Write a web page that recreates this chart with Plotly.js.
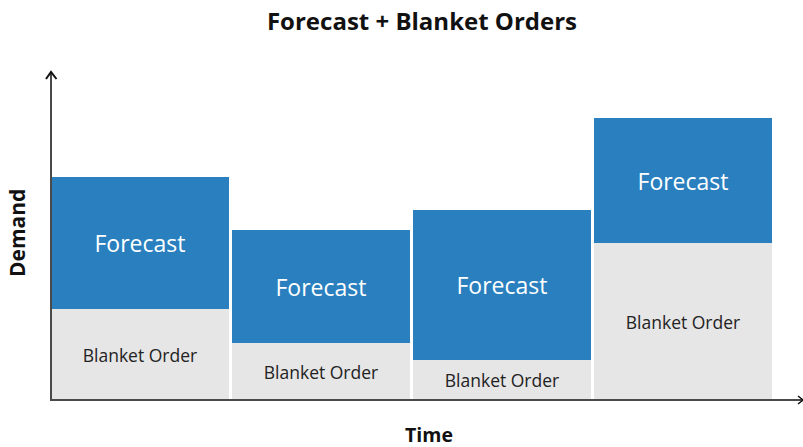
<!DOCTYPE html>
<html>
<head>
<meta charset="utf-8">
<script src="https://cdn.plot.ly/plotly-3.0.1.min.js"></script>
<style>html,body{margin:0;padding:0;background:#fff}#chart{width:803px;height:447px}</style>
</head>
<body>
<div id="chart"></div>
<script>
// Data (demand units)
const periods = ["Period 1", "Period 2", "Period 3", "Period 4"];
const blanketOrders = [91, 57, 40, 157];
const forecast = [132, 113, 150, 125];
const blanketLabels = ["Blanket Order", "Blanket Order", "Blanket Order", "Blanket Order"];
const forecastLabels = ["Forecast", "Forecast", "Forecast", "Forecast"];

const W = 803, H = 447;
const M = {l: 50, r: 0, t: 73, b: 47};
const plotW = W - M.l - M.r, plotH = H - M.t - M.b;
const px = x => (x - M.l) / plotW;
const py = y => (H - M.b - y) / plotH;
const FONT = "Open Sans, Noto Sans, sans-serif";
const axisCol = "#4a4a4a";

const traces = [
  {
    type: "bar", x: periods, y: blanketOrders, name: "Blanket Order",
    marker: {color: "#e6e6e6", line: {width: 0}},
    text: blanketLabels, textposition: "inside", insidetextanchor: "middle",
    textfont: {family: FONT, size: 17.5, color: "#222"},
    constraintext: "none", hoverinfo: "skip"
  },
  {
    type: "bar", x: periods, y: forecast, name: "Forecast",
    marker: {color: "#2a7fbf", line: {width: 0}},
    text: forecastLabels, textposition: "inside", insidetextanchor: "middle",
    textfont: {family: FONT, size: 23, color: "#ffffff"},
    constraintext: "none", hoverinfo: "skip"
  }
];

const layout = {
  width: W, height: H,
  margin: M,
  barmode: "stack",
  bargap: 0.017,
  showlegend: false,
  paper_bgcolor: "#fff", plot_bgcolor: "#fff",
  title: {text: "<b>Forecast + Blanket Orders</b>", x: 422 / W, xref: "container", xanchor: "center",
          y: 1 - 22 / H, yref: "container", yanchor: "middle",
          font: {family: FONT, size: 24, color: "#111"}},
  xaxis: {type: "category", range: [-0.497, 3.663], showticklabels: false, ticks: "",
          showgrid: false, zeroline: false, showline: false, fixedrange: true},
  yaxis: {range: [0, plotH], showticklabels: false, ticks: "", showgrid: false,
          zeroline: false, showline: false, fixedrange: true},
  shapes: [
    {type: "line", xref: "paper", yref: "paper", x0: px(51), x1: px(51), y0: py(400), y1: py(72),
     line: {color: axisCol, width: 2}, layer: "above"},
    {type: "line", xref: "paper", yref: "paper", x0: px(50), x1: px(803), y0: py(400), y1: py(400),
     line: {color: axisCol, width: 2}, layer: "above"},
    {type: "path", xref: "paper", yref: "paper",
     path: `M ${px(46)} ${py(79)} L ${px(51)} ${py(72)} L ${px(56.5)} ${py(79)}`,
     line: {color: "#111", width: 2}, layer: "above"},
    {type: "path", xref: "paper", yref: "paper",
     path: `M ${px(798)} ${py(396)} L ${px(803)} ${py(400)} L ${px(798)} ${py(404)}`,
     line: {color: "#111", width: 1.5}, layer: "above"}
  ],
  annotations: [
    {text: "<b>Demand</b>", xref: "paper", yref: "paper", x: px(17), y: py(233),
     showarrow: false, textangle: -90, xanchor: "center", yanchor: "middle",
     font: {family: FONT, size: 21, color: "#111"}},
    {text: "<b>Time</b>", xref: "paper", yref: "paper", x: px(429), y: py(434.5),
     showarrow: false, xanchor: "center", yanchor: "middle",
     font: {family: FONT, size: 19.5, color: "#111"}}
  ]
};

Plotly.newPlot("chart", traces, layout, {displayModeBar: false, staticPlot: true});
</script>
</body>
</html>
